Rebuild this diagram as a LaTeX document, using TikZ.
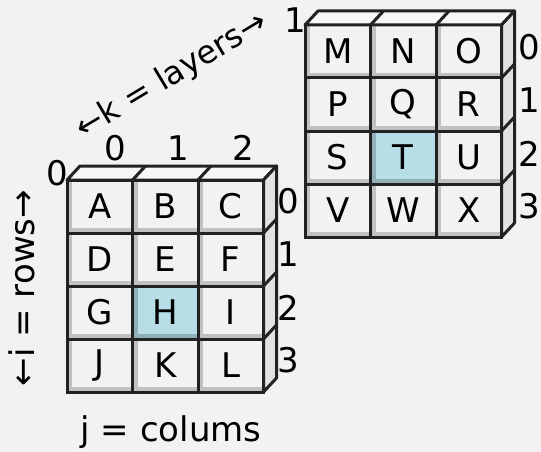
\documentclass[tikz,border=0pt]{standalone}
\usepackage{fontspec}
\setmainfont{DejaVu Sans}
\usetikzlibrary{calc, positioning}
\definecolor{GridBack}{RGB}{242, 242, 242}
\definecolor{GridBlue}{RGB}{183, 221, 230}
\definecolor{GridSide}{RGB}{226, 226, 226}
\definecolor{GridTop}{RGB}{247, 247, 247}
\definecolor{GridEdge}{RGB}{34, 34, 34}

\begin{document}
\begin{tikzpicture}[x=1pt, y=-1pt,
    every node/.style={font=\fontsize{34}{40}\selectfont, inner sep=0pt, outer sep=0pt},
    cell/.style={draw=GridEdge, line width=3pt, fill=GridBack, minimum width=65.5pt, minimum height=53pt,
      path picture={\draw[black, opacity=0.2, line width=10pt] (path picture bounding box.north west) -- (path picture bounding box.south west) -- (path picture bounding box.south east);}},
    pick/.style={cell, fill=GridBlue},
    face/.style={draw=GridEdge, line width=3pt, line join=round}]
  \fill[GridBack] (0,0) rectangle (541,452);
  \useasboundingbox (0,0) rectangle (541,452);

  \node[cell] (A) at (99.75,206.5) {A};
  \node[cell, right=0pt of A] (B) {B};
  \node[cell, right=0pt of B] (C) {C};
  \node[cell, below=0pt of A] (D) {D};
  \node[cell, right=0pt of D] (E) {E};
  \node[cell, right=0pt of E] (F) {F};
  \node[cell, below=0pt of D] (G) {G};
  \node[pick, right=0pt of G] (H) {H};
  \node[cell, right=0pt of H] (I) {I};
  \node[cell, below=0pt of G] (J) {J};
  \node[cell, right=0pt of J] (K) {K};
  \node[cell, right=0pt of K] (L) {L};
  \draw[face, fill=GridTop] (A.north west) -- ++(13,-14) -- ($(C.north east)+(13,-14)$) -- (C.north east) -- cycle;
  \draw[face, fill=GridSide] (C.north east) -- ++(13,-14) -- ($(L.south east)+(13,-14)$) -- (L.south east) -- cycle;
  \foreach \n in {B,C} \draw[face] (\n.north west) -- ++(13,-14);
  \foreach \n in {C,F,I} \draw[face] (\n.south east) -- ++(13,-14);

  \node[cell] (M) at (337.75,51.5) {M};
  \node[cell, right=0pt of M] (N) {N};
  \node[cell, right=0pt of N] (O) {O};
  \node[cell, below=0pt of M] (P) {P};
  \node[cell, right=0pt of P] (Q) {Q};
  \node[cell, right=0pt of Q] (R) {R};
  \node[cell, below=0pt of P] (S) {S};
  \node[pick, right=0pt of S] (T) {T};
  \node[cell, right=0pt of T] (U) {U};
  \node[cell, below=0pt of S] (V) {V};
  \node[cell, right=0pt of V] (W) {W};
  \node[cell, right=0pt of W] (X) {X};
  \draw[face, fill=GridTop] (M.north west) -- ++(13,-14) -- ($(O.north east)+(13,-14)$) -- (O.north east) -- cycle;
  \draw[face, fill=GridSide] (O.north east) -- ++(13,-14) -- ($(X.south east)+(13,-14)$) -- (X.south east) -- cycle;
  \foreach \n in {N,O} \draw[face] (\n.north west) -- ++(13,-14);
  \foreach \n in {O,R,U} \draw[face] (\n.south east) -- ++(13,-14);

  \node (col0) at ($(A.north)+(16,-32)$) {0};
  \node (col1) at ($(B.north)+(13,-32)$) {1};
  \node (col2) at ($(C.north)+(13,-32)$) {2};
  \node (lay0) at ($(A.north west)+(-10,-7)$) {0};
  \node (lay1) at ($(M.north west)+(-10,-5)$) {1};
  \node[anchor=west] (frow0) at ($(C.east)+(14,-5)$) {0};
  \node[anchor=west] (frow1) at ($(F.east)+(14,-5)$) {1};
  \node[anchor=west] (frow2) at ($(I.east)+(14,-5)$) {2};
  \node[anchor=west] (frow3) at ($(L.east)+(14,-5)$) {3};
  \node[anchor=west] (brow0) at ($(O.east)+(17,-4)$) {0};
  \node[anchor=west] (brow1) at ($(R.east)+(17,-4)$) {1};
  \node[anchor=west] (brow2) at ($(U.east)+(17,-4)$) {2};
  \node[anchor=west] (brow3) at ($(X.east)+(17,-4)$) {3};
  \node (jlab) at (171,432) {j = colums};
  \node[rotate=90] (ilab) at (22,288) {←i = rows→};
  \node[rotate=31, font=\fontsize{32}{38}\selectfont] (klab) at (172,76) {←k = layers→};
\end{tikzpicture}
\end{document}
